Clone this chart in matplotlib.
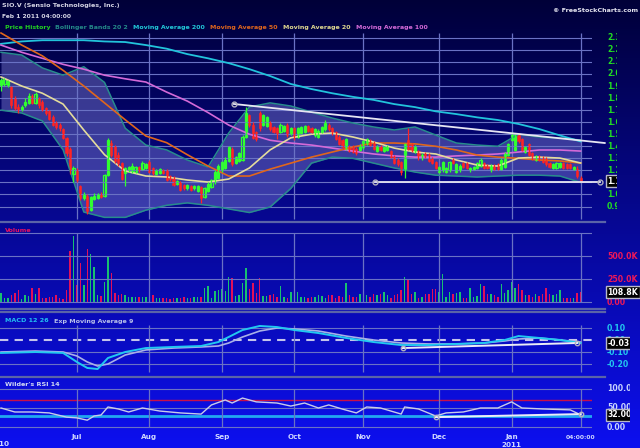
import numpy as np
import pandas as pd
import matplotlib
matplotlib.use("Agg")
import matplotlib.pyplot as plt
import matplotlib.transforms as mtransforms
from matplotlib.lines import Line2D

plt.rcParams['font.family'] = ['DejaVu Sans']

W, H = 640, 448

#*********************************************************************
# SIO.V daily bars, TSX-V trading days Jun 1 2010 .. Feb 1 2011
holidays = ["2010-07-01", "2010-08-02", "2010-09-06", "2010-10-11",
            "2010-12-27", "2010-12-28", "2011-01-03"]
dates = pd.bdate_range("2010-06-01", "2011-02-01")
dates = dates[~dates.isin(pd.to_datetime(holidays))]

opens = [1.91, 1.92, 1.91, 1.89, 1.80, 1.73, 1.70, 1.74, 1.76, 1.82,
         1.76, 1.80, 1.77, 1.72, 1.69, 1.64, 1.60, 1.58, 1.54, 1.47,
         1.38, 1.17, 1.20, 1.07, 0.97, 0.99, 0.87, 0.96, 0.97, 1.00,
         0.99, 1.16, 1.43, 1.40, 1.33, 1.26, 1.18, 1.20, 1.19, 1.19,
         1.23, 1.21, 1.22, 1.27, 1.22, 1.17, 1.18, 1.20, 1.20, 1.15,
         1.14, 1.09, 1.10, 1.08, 1.05, 1.07, 1.05, 1.03, 1.06, 0.98,
         1.03, 1.06, 1.10, 1.14, 1.20, 1.22, 1.28, 1.38, 1.26, 1.28,
         1.29, 1.48, 1.66, 1.58, 1.52, 1.68, 1.58, 1.57, 1.60, 1.56,
         1.55, 1.52, 1.53, 1.58, 1.50, 1.55, 1.48, 1.51, 1.52, 1.57,
         1.55, 1.49, 1.48, 1.52, 1.54, 1.58, 1.55, 1.52, 1.48, 1.45,
         1.38, 1.40, 1.40, 1.38, 1.37, 1.39, 1.42, 1.45, 1.43, 1.36,
         1.40, 1.36, 1.37, 1.36, 1.32, 1.29, 1.27, 1.20, 1.45, 1.42,
         1.35, 1.36, 1.30, 1.34, 1.33, 1.30, 1.27, 1.19, 1.20, 1.19,
         1.20, 1.29, 1.19, 1.20, 1.26, 1.26, 1.20, 1.21, 1.22, 1.24,
         1.26, 1.24, 1.20, 1.24, 1.25, 1.21, 1.23, 1.33, 1.45, 1.37,
         1.50, 1.46, 1.35, 1.42, 1.34, 1.29, 1.32, 1.31, 1.30, 1.26,
         1.22, 1.22, 1.23, 1.26, 1.25, 1.25, 1.21, 1.21, 1.14]
closes = [1.95, 1.96, 1.94, 1.74, 1.72, 1.70, 1.73, 1.77, 1.82, 1.76,
          1.83, 1.74, 1.70, 1.68, 1.63, 1.58, 1.56, 1.55, 1.47, 1.34,
          1.20, 1.22, 1.12, 0.97, 1.00, 0.86, 0.98, 0.99, 1.00, 0.98,
          1.16, 1.45, 1.33, 1.28, 1.26, 1.13, 1.22, 1.23, 1.24, 1.23,
          1.20, 1.26, 1.25, 1.19, 1.18, 1.20, 1.21, 1.18, 1.12, 1.13,
          1.08, 1.11, 1.04, 1.05, 1.08, 1.04, 1.07, 1.07, 0.97, 1.05,
          1.09, 1.12, 1.19, 1.24, 1.27, 1.29, 1.39, 1.25, 1.31, 1.34,
          1.48, 1.68, 1.58, 1.47, 1.46, 1.55, 1.66, 1.64, 1.54, 1.52,
          1.50, 1.58, 1.57, 1.49, 1.55, 1.48, 1.55, 1.56, 1.57, 1.53,
          1.52, 1.54, 1.53, 1.56, 1.59, 1.54, 1.50, 1.46, 1.42, 1.39,
          1.46, 1.36, 1.35, 1.34, 1.41, 1.44, 1.46, 1.41, 1.38, 1.40,
          1.37, 1.39, 1.40, 1.31, 1.26, 1.25, 1.19, 1.42, 1.38, 1.36,
          1.40, 1.30, 1.33, 1.31, 1.28, 1.26, 1.22, 1.23, 1.27, 1.22,
          1.27, 1.26, 1.25, 1.24, 1.23, 1.22, 1.22, 1.23, 1.26, 1.29,
          1.22, 1.22, 1.24, 1.21, 1.21, 1.29, 1.34, 1.42, 1.50, 1.49,
          1.44, 1.37, 1.39, 1.33, 1.30, 1.32, 1.29, 1.27, 1.25, 1.23,
          1.25, 1.26, 1.26, 1.22, 1.22, 1.22, 1.23, 1.15, 1.11]
highs = [1.97, 1.97, 1.95, 1.90, 1.82, 1.75, 1.74, 1.80, 1.84, 1.83,
         1.85, 1.81, 1.78, 1.73, 1.70, 1.66, 1.61, 1.59, 1.55, 1.48,
         1.39, 1.24, 1.22, 1.08, 1.02, 1.00, 0.99, 1.01, 1.01, 1.02,
         1.17, 1.47, 1.45, 1.41, 1.35, 1.27, 1.23, 1.24, 1.26, 1.24,
         1.24, 1.28, 1.26, 1.29, 1.23, 1.21, 1.22, 1.21, 1.21, 1.16,
         1.15, 1.12, 1.11, 1.09, 1.09, 1.08, 1.08, 1.08, 1.07, 1.06,
         1.10, 1.13, 1.20, 1.25, 1.28, 1.31, 1.40, 1.39, 1.32, 1.35,
         1.49, 1.73, 1.67, 1.60, 1.53, 1.69, 1.67, 1.65, 1.61, 1.57,
         1.56, 1.59, 1.58, 1.59, 1.56, 1.56, 1.56, 1.57, 1.58, 1.58,
         1.56, 1.55, 1.54, 1.57, 1.62, 1.59, 1.56, 1.53, 1.49, 1.46,
         1.47, 1.41, 1.41, 1.39, 1.42, 1.45, 1.47, 1.46, 1.44, 1.41,
         1.41, 1.40, 1.41, 1.37, 1.33, 1.30, 1.28, 1.43, 1.55, 1.43,
         1.41, 1.37, 1.34, 1.35, 1.34, 1.31, 1.28, 1.24, 1.28, 1.23,
         1.28, 1.30, 1.26, 1.25, 1.27, 1.27, 1.23, 1.24, 1.27, 1.30,
         1.27, 1.25, 1.25, 1.25, 1.26, 1.30, 1.35, 1.43, 1.52, 1.50,
         1.51, 1.47, 1.40, 1.43, 1.35, 1.33, 1.33, 1.32, 1.31, 1.27,
         1.26, 1.27, 1.27, 1.27, 1.26, 1.26, 1.24, 1.24, 1.15]
lows = [1.86, 1.90, 1.89, 1.72, 1.70, 1.68, 1.69, 1.73, 1.75, 1.75,
        1.75, 1.72, 1.69, 1.66, 1.62, 1.57, 1.54, 1.53, 1.46, 1.32,
        1.17, 1.10, 1.10, 0.95, 0.95, 0.84, 0.86, 0.95, 0.96, 0.97,
        0.98, 1.15, 1.31, 1.26, 1.24, 1.12, 1.07, 1.19, 1.18, 1.18,
        1.19, 1.20, 1.21, 1.18, 1.16, 1.16, 1.17, 1.17, 1.11, 1.11,
        1.07, 1.08, 1.03, 1.04, 1.04, 1.03, 1.04, 1.02, 0.93, 0.97,
        1.02, 1.05, 1.09, 1.13, 1.19, 1.21, 1.27, 1.24, 1.25, 1.27,
        1.28, 1.47, 1.56, 1.46, 1.44, 1.53, 1.57, 1.56, 1.53, 1.51,
        1.46, 1.51, 1.52, 1.48, 1.49, 1.45, 1.47, 1.50, 1.51, 1.52,
        1.51, 1.48, 1.47, 1.51, 1.53, 1.53, 1.49, 1.45, 1.41, 1.38,
        1.37, 1.35, 1.34, 1.33, 1.36, 1.38, 1.41, 1.40, 1.37, 1.35,
        1.36, 1.35, 1.36, 1.30, 1.25, 1.24, 1.16, 1.14, 1.37, 1.35,
        1.34, 1.29, 1.29, 1.30, 1.27, 1.25, 1.21, 1.18, 1.19, 1.18,
        1.19, 1.25, 1.18, 1.19, 1.22, 1.21, 1.19, 1.20, 1.21, 1.23,
        1.21, 1.21, 1.19, 1.20, 1.20, 1.20, 1.22, 1.32, 1.44, 1.36,
        1.43, 1.36, 1.34, 1.32, 1.29, 1.28, 1.28, 1.26, 1.24, 1.22,
        1.21, 1.21, 1.22, 1.21, 1.21, 1.21, 1.20, 1.14, 1.10]
volume_k = [94, 40, 47, 76, 101, 130, 33, 76, 65, 149,
            87, 149, 40, 47, 58, 58, 76, 40, 33, 130,
            554, 717, 185, 420, 185, 576, 518, 384, 76, 65,
            221, 500, 312, 94, 76, 83, 76, 58, 58, 58,
            58, 58, 58, 87, 76, 47, 47, 47, 47, 29,
            40, 40, 47, 51, 47, 47, 58, 58, 58, 156,
            174, 40, 120, 130, 141, 120, 275, 257, 65, 76,
            203, 373, 141, 210, 94, 257, 62, 65, 76, 83,
            58, 174, 58, 40, 105, 94, 105, 58, 58, 40,
            58, 58, 76, 69, 40, 76, 76, 40, 65, 58,
            203, 76, 58, 58, 83, 40, 76, 58, 83, 76,
            83, 112, 76, 47, 76, 83, 130, 268, 250, 83,
            112, 40, 54, 83, 83, 141, 138, 105, 301, 58,
            105, 90, 94, 112, 40, 47, 156, 58, 69, 192,
            174, 90, 83, 76, 58, 196, 94, 130, 214, 149,
            192, 130, 76, 76, 58, 90, 65, 83, 149, 87,
            73, 90, 130, 40, 47, 47, 40, 94, 108.8]

# indicator lines, read at every 6th bar
line_idx = [0, 6, 12, 18, 24, 30, 36, 42, 48, 54, 60, 66, 72, 78, 84,
            90, 96, 102, 108, 114, 120, 126, 132, 138, 144, 150, 156, 162, 168]
ma20 = [1.975, 1.90, 1.84, 1.75, 1.535, 1.33, 1.195, 1.153, 1.145, 1.12,
        1.103, 1.128, 1.22, 1.37, 1.47, 1.50, 1.51, 1.477, 1.435, 1.385,
        1.352, 1.336, 1.286, 1.244, 1.236, 1.302, 1.31, 1.302, 1.261]
ma50 = [2.34, 2.24, 2.15, 2.03, 1.90, 1.76, 1.62, 1.485, 1.43, 1.33,
        1.236, 1.153, 1.153, 1.21, 1.26, 1.31, 1.352, 1.394, 1.427, 1.427,
        1.42, 1.40, 1.369, 1.327, 1.31, 1.30, 1.286, 1.278, 1.261]
ma100 = [2.24, 2.18, 2.13, 2.08, 2.04, 1.99, 1.96, 1.933, 1.85, 1.775,
         1.68, 1.576, 1.50, 1.45, 1.427, 1.41, 1.385, 1.36, 1.336, 1.32,
         1.31, 1.31, 1.32, 1.327, 1.336, 1.352, 1.369, 1.369, 1.36]
ma200 = [2.25, 2.27, 2.28, 2.28, 2.28, 2.27, 2.265, 2.24, 2.21, 2.165,
         2.13, 2.09, 2.04, 1.983, 1.917, 1.875, 1.84, 1.81, 1.785, 1.75,
         1.725, 1.69, 1.667, 1.64, 1.618, 1.585, 1.543, 1.49, 1.44]
bb_upper = [2.18, 2.157, 2.05, 1.99, 2.06, 1.93, 1.55, 1.41, 1.37, 1.286,
            1.228, 1.51, 1.726, 1.76, 1.734, 1.684, 1.634, 1.593, 1.56, 1.535,
            1.56, 1.493, 1.427, 1.41, 1.40, 1.50, 1.477, 1.468, 1.452]
bb_lower = [1.70, 1.676, 1.61, 1.37, 0.854, 0.81, 0.81, 0.87, 0.91, 0.93,
            0.91, 0.88, 0.85, 0.896, 1.05, 1.26, 1.31, 1.30, 1.26, 1.22,
            1.186, 1.16, 1.153, 1.145, 1.153, 1.16, 1.16, 1.153, 1.10]

macd_idx = [0, 10, 18, 22, 25, 28, 31, 36, 42, 50, 58, 63, 66, 70, 75,
            80, 85, 92, 100, 108, 116, 124, 132, 140, 146, 150, 156, 162, 168]
macd = [-0.108, -0.10, -0.108, -0.183, -0.233, -0.242, -0.15, -0.10, -0.067,
        -0.058, -0.05, -0.017, 0.025, 0.083, 0.117, 0.108, 0.083, 0.058, 0.017,
        -0.017, -0.042, -0.042, -0.033, -0.025, 0.0, 0.033, 0.017, 0.0, -0.025]
macd_signal = [-0.10, -0.092, -0.10, -0.133, -0.183, -0.217, -0.20, -0.125,
               -0.083, -0.067, -0.058, -0.05, -0.025, 0.025, 0.075, 0.10, 0.092,
               0.075, 0.033, 0.0, -0.025, -0.033, -0.033, -0.025, -0.008, 0.008,
               0.017, 0.0, -0.017]

rsi_idx = [0, 4, 9, 14, 19, 22, 25, 27, 29, 31, 34, 37, 41, 46, 52, 58, 61,
           65, 67, 70, 74, 80, 84, 88, 92, 95, 99, 103, 106, 110, 116, 117,
           121, 126, 129, 134, 139, 144, 148, 151, 157, 165, 168]
rsi = [50, 39.5, 39.5, 37, 26, 24, 18, 29, 31.6, 52.6, 47.4, 39.5, 50, 42,
       37, 34, 58, 71, 63, 76, 66, 63, 55, 63, 50, 58, 47, 37, 52.6, 50, 34,
       52.6, 47.4, 29, 37, 39.5, 50, 50, 66, 50, 47.4, 45, 32]

# hand drawn trend lines (bar index, value)
trend_hi = ([67.5, 175.0], [1.751, 1.427])
trend_lo = ([108.4, 173.6], [1.103, 1.103])
trend_macd = ([116.5, 167.0], [-0.067, -0.025])
trend_rsi = ([126.0, 168.0], [26, 34])

price_ticks = [2.3, 2.2, 2.1, 2.0, 1.9, 1.8, 1.7, 1.6, 1.5, 1.4, 1.3, 1.2, 1.1, 1.0, 0.9]
price_labels = ["2.30", "2.20", "2.10", "2.00", "1.90", "1.80", "1.70", "1.60",
                "1.50", "1.40", "1.30", "1.20", "1.10", "1.00", "0.90"]
vol_ticks = [500, 250, 0]
vol_labels = ["500.0K", "250.0K", "0.00"]
macd_ticks = [0.1, 0.0, -0.1, -0.2]
macd_labels = ["0.10", "0.00", "-0.10", "-0.20"]
rsi_ticks = [100, 50, 0]
rsi_labels = ["100.00", "50.00", "0.00"]
#*********************************************************************

n = len(closes)
x = np.arange(n)
opens = np.array(opens); closes = np.array(closes)
highs = np.array(highs); lows = np.array(lows)
up = closes >= opens
month_idx = [i for i in range(1, n) if dates[i].month != dates[i - 1].month]

GRID = '#6a72c4'
px_per_bar = 3.45
xl = (-1.0 / px_per_bar, 591.0 / px_per_bar)

fig = plt.figure(figsize=(W / 100, H / 100), dpi=100)

# background gradient
bg = fig.add_axes([0, 0, 1, 1], zorder=-10)
t = np.linspace(0, 1, 256)[:, None]
img = np.dstack([0.0 + 0.05 * t, 0.0 + 0.06 * t, 0.22 + 0.72 * t])
bg.imshow(img, aspect='auto', extent=[0, 1, 0, 1])
bg.set_axis_off()


def panel(top, bottom):
    a = fig.add_axes([0, 1 - bottom / H, 592 / W, (bottom - top) / H])
    a.set_facecolor('none')
    for s in a.spines.values():
        s.set_visible(False)
    a.set_xticks([]); a.set_yticks([])
    a.set_xlim(*xl)
    return a


def side(a, right_px, ticks, labels, color, box_val, box_txt):
    p = a.get_position()
    lab = fig.add_axes([600 / W, p.y0, (right_px - 600) / W, p.height], sharey=a)
    lab.set_axis_off()
    lab.set_xlim(600, right_px)
    for v, s in zip(ticks, labels):
        tt = lab.text(607, v, s, color=color, fontsize=5.6, fontweight='bold',
                      va='center', ha='left', clip_on=True)
        tt.set_clip_box(lab.bbox)
    tt = lab.text(607.5, box_val, box_txt, color='white', fontsize=5.6, fontweight='bold',
                  va='center', ha='left', clip_on=True,
                  bbox=dict(boxstyle='square,pad=0.2', fc='black', ec='#b8b8c8', lw=1))
    tt.set_clip_box(lab.bbox)


# ---- price panel ----
ax = panel(30, 220)
ax.set_ylim(0.788, 2.365)
for v in price_ticks:
    ax.axhline(v, color=GRID, lw=0.8)
ax.vlines(month_idx, 0.80, 2.34, color=GRID, lw=0.9)
ax.fill_between(line_idx, bb_lower, bb_upper, color='#8c8cdc', alpha=0.40, lw=0)
ax.plot(line_idx, bb_upper, color='#288c8c', lw=1.1)
ax.plot(line_idx, bb_lower, color='#288c8c', lw=1.1)
ax.plot(line_idx, ma200, color='#22c4dc', lw=1.3)
ax.plot(line_idx, ma100, color='#d46ad8', lw=1.2)
ax.plot(line_idx, ma50, color='#e0661c', lw=1.2)
ax.plot(line_idx, ma20, color='#e4dc9c', lw=1.2)

col = np.where(up, '#30ff30', '#ff2424')
ax.vlines(x, lows, highs, colors=col, lw=0.9)
body = np.maximum(np.abs(closes - opens), 0.006)
ax.bar(x[~up], body[~up], bottom=np.minimum(opens, closes)[~up], width=0.62,
       color='#ff2424', edgecolor='#ff2424', lw=0.4)
ax.bar(x[up], body[up], bottom=np.minimum(opens, closes)[up], width=0.62,
       facecolor='none', edgecolor='#30ff30', lw=0.9)

ax.plot(*trend_hi, color='#e6e6f2', lw=1.3, clip_on=False)
ax.plot(trend_hi[0][0], trend_hi[1][0], 'o', mfc='none', mec='#b0b0c0', ms=3.5, mew=1)
ax.plot(*trend_lo, color='#e6e6f2', lw=1.3, clip_on=False)
ax.plot(trend_lo[0], trend_lo[1], 'o', mfc='none', mec='#b0b0c0', ms=3.5, mew=1, clip_on=False)
side(ax, 617, price_ticks, price_labels, '#22e022', closes[-1], "%.2f" % closes[-1])

# ---- volume panel ----
axv = panel(225, 306)
axv.set_ylim(-43, 837)
for v in [0, 250, 500, 750]:
    axv.axhline(v, color=GRID, lw=0.8)
axv.vlines(month_idx, 0, 750, color=GRID, lw=0.9)
vcol = np.where(up, '#18c070', '#e0105a')
axv.bar(x, volume_k, width=0.42, color=vcol, lw=0)
side(axv, 640, vol_ticks, vol_labels, '#f01858', volume_k[-1], "%.1fK" % volume_k[-1])

# ---- MACD panel ----
axm = panel(313, 376)
axm.set_ylim(-0.30, 0.225)
for v in [0.1, -0.1, -0.2]:
    axm.axhline(v, color=GRID, lw=0.8)
axm.axhline(0, color='#c4c4ec', lw=1.5, ls=(0, (4, 3)))
axm.vlines(month_idx, -0.27, 0.125, color=GRID, lw=0.9)
axm.plot(macd_idx, macd_signal, color='#a8b0e8', lw=1.2)
axm.plot(macd_idx, macd, color='#22c8f0', lw=1.4)
axm.plot(*trend_macd, color='#ececf6', lw=1.4)
axm.plot(trend_macd[0], trend_macd[1], 'o', mfc='none', mec='#b0b0c0', ms=3.2, mew=1)
side(axm, 630, macd_ticks, macd_labels, '#22c8f0', macd[-1], "%.2f" % macd[-1])

# ---- RSI panel ----
axr = panel(379, 432)
axr.set_ylim(-13, 126)
for v in rsi_ticks:
    axr.axhline(v, color=GRID, lw=0.8)
axr.axhline(70, color='#c81048', lw=1)
axr.axhline(30, color='#22a8f0', lw=2)
axr.vlines(month_idx, 0, 100, color=GRID, lw=0.9)
axr.plot(rsi_idx, rsi, color='#c8cce8', lw=1)
axr.plot(*trend_rsi, color='#ececf6', lw=1.4)
axr.plot(trend_rsi[0], trend_rsi[1], 'o', mfc='none', mec='#b0b0c0', ms=3.2, mew=1)
side(axr, 630, rsi_ticks, rsi_labels, '#c8d4ff', rsi[-1], "%.2f" % rsi[-1])

# separators between panels
for yy in [222, 309, 312, 377]:
    fig.add_artist(Line2D([0, 605 / W], [1 - yy / H] * 2, color='#5a64a8', lw=1.6))


def ftext(px, py, s, **kw):
    fig.text(px / W, 1 - py / H, s, va='center', **kw)


# header
ftext(2, 6, "SIO.V (Sensio Technologies, Inc.)", color='#d4d4e4', fontsize=4.6, fontweight='bold')
ftext(2, 16, "Feb 1 2011 04:00:00", color='#d4d4e4', fontsize=4.3, fontweight='bold')
ftext(638, 11, "\u00a9 FreeStockCharts.com", color='#e4e4f0', fontsize=4.6,
      fontweight='bold', ha='right')
legend = [("Price History", '#22d022', 5), ("Bollinger Bands 20 2", '#248888', 55),
          ("Moving Average 200", '#22c8d8', 133), ("Moving Average 50", '#e0661c', 210),
          ("Moving Average 20", '#e0d890', 283), ("Moving Average 100", '#d46ad8', 356)]
for s, c, px in legend:
    ftext(px, 27, s, color=c, fontsize=4.5, fontweight='bold')
ftext(5, 230, "Volume", color='#e81060', fontsize=4.6, fontweight='bold')
ftext(5, 321, "MACD 12 26", color='#22c0f0', fontsize=4.6, fontweight='bold')
ftext(54, 321, "Exp Moving Average 9", color='#b8c0ea', fontsize=4.6, fontweight='bold')
ftext(5, 384, "Wilder's RSI 14", color='#d4dcf4', fontsize=4.6, fontweight='bold')

# month labels under the RSI panel
tr = mtransforms.blended_transform_factory(axr.transData, fig.transFigure)
for i in month_idx:
    if dates[i].month == 2:
        s, fs = "04:00:00", 4.3
    else:
        s, fs = dates[i].strftime('%b'), 5.2
    fig.text(i, 1 - 437 / H, s, transform=tr, ha='center', va='center',
             color='#d0d8ff', fontsize=fs, fontweight='bold')
    if dates[i].month == 1:
        fig.text(i, 1 - 445 / H, str(dates[i].year), transform=tr, ha='center',
                 va='center', color='#d0d8ff', fontsize=5.2, fontweight='bold')
ftext(9, 444, str(dates[0].year), color='#d0d8ff', fontsize=5.2, fontweight='bold', ha='right')

fig.savefig("out.png", dpi=100)
